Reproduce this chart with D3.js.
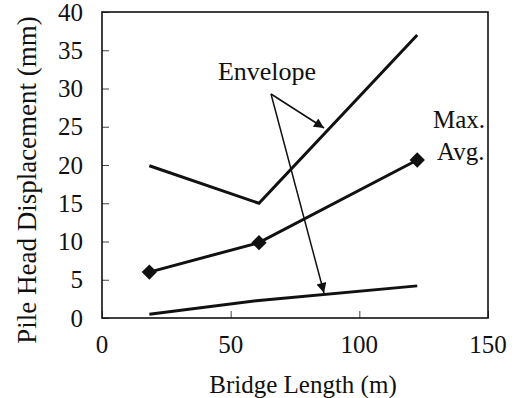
<!DOCTYPE html>
<html><head><meta charset="utf-8">
<script src="https://cdn.jsdelivr.net/npm/d3@7"></script>
<style>body{margin:0;background:#fff}svg{display:block}text{font-family:"Liberation Serif","Times New Roman",serif;fill:#111}</style>
</head><body><svg id="c" width="516" height="398"></svg>
<script>
const lengths = [18.4, 61, 122.5];
const maxDisp = [19.9, 15.0, 37.0];
const avgDisp = [6.0, 9.85, 20.65];
const minDisp = [0.5, 2.3, 4.2];
const xTicks = [0, 50, 100, 150];
const yTicks = [0, 5, 10, 15, 20, 25, 30, 35, 40];

const svg = d3.select("#c");
const L = 102, R = 488, T = 12, B = 318;
const x = d3.scaleLinear().domain([0, 150]).range([L, R]);
const y = d3.scaleLinear().domain([0, 40]).range([B, T]);

svg.append("defs").append("marker").attr("id","ah").attr("viewBox","0 0 10 10")
  .attr("refX",10).attr("refY",5).attr("markerWidth",13).attr("markerHeight",10)
  .attr("markerUnits","userSpaceOnUse").attr("orient","auto")
  .append("path").attr("d","M0,0L10,5L0,10z").attr("fill","#111");

// axes
const ya = svg.append("g").attr("transform",`translate(${L},0)`)
  .call(d3.axisRight(y).tickValues(yTicks).tickSize(7).tickFormat(""));
ya.select(".domain").remove();
ya.selectAll("line").attr("stroke","#444").attr("stroke-width",1);
const xa = svg.append("g").attr("transform",`translate(0,${B})`)
  .call(d3.axisTop(x).tickValues(xTicks).tickSize(7).tickFormat(""));
xa.select(".domain").remove();
xa.selectAll("line").attr("stroke","#444").attr("stroke-width",1);

yTicks.forEach(v => svg.append("text").attr("x", L-19).attr("y", y(v)+8.5)
  .attr("text-anchor","end").attr("font-size",25).text(v));
xTicks.forEach(v => svg.append("text").attr("x", x(v)).attr("y", 353)
  .attr("text-anchor","middle").attr("font-size",25).text(v));

svg.append("rect").attr("x",L).attr("y",T).attr("width",R-L).attr("height",B-T)
  .attr("fill","none").attr("stroke","#111").attr("stroke-width",1.6);

svg.append("text").attr("transform",`translate(36,180) rotate(-90)`)
  .attr("text-anchor","middle").attr("font-size",27).text("Pile Head Displacement (mm)");
svg.append("text").attr("x",303).attr("y",393).attr("text-anchor","middle")
  .attr("font-size",25).text("Bridge Length (m)");

const line = d3.line().x(d => x(d[0])).y(d => y(d[1]));
[maxDisp, avgDisp, minDisp].forEach(s => {
  svg.append("path").attr("d", line(lengths.map((l,i)=>[l,s[i]])))
    .attr("fill","none").attr("stroke","#111").attr("stroke-width",3).attr("stroke-linejoin","miter");
});
const sym = d3.symbol().type(d3.symbolDiamond2).size(150);
lengths.forEach((l,i) => svg.append("path").attr("d", sym())
  .attr("transform",`translate(${x(l)},${y(avgDisp[i])})`).attr("fill","#111"));

// annotations
svg.append("text").attr("x",267).attr("y",80).attr("text-anchor","middle").attr("font-size",26).text("Envelope");
const ox = 271, oy = 94;
[[324,128],[324,293]].forEach(p => svg.append("line").attr("x1",ox).attr("y1",oy)
  .attr("x2",p[0]).attr("y2",p[1]).attr("stroke","#111").attr("stroke-width",1.5).attr("marker-end","url(#ah)"));
svg.append("text").attr("x",433).attr("y",128).attr("font-size",25).text("Max.");
svg.append("text").attr("x",437).attr("y",160).attr("font-size",25).text("Avg.");
</script></body></html>
